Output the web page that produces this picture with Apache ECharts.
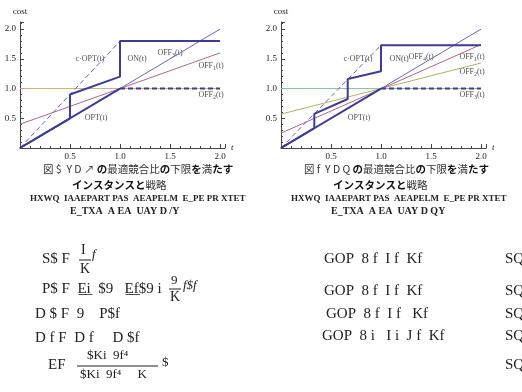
<!DOCTYPE html>
<html>
<head>
<meta charset="utf-8">
<script src="https://cdn.jsdelivr.net/npm/echarts@6/dist/echarts.min.js"></script>
<style>
	html, body { margin: 0; padding: 0; background: #fff; }
	#main { width: 522px; height: 392px; }
</style>
</head>
<body>
<div id="main"></div>
<script>
// 左图数据
var optL = [[0, 0], [1, 1]];
var optDashL = [[1, 1], [2, 1]];
var onL = [[0, 0], [0.5, 0.5], [0.5, 0.9], [1, 1.2], [1, 1.8], [2, 1.8]];
var cOptL = [[0, 0], [1, 1.8]];
var off1L = [[0, 0.4], [2, 1.6]];
var off2L = [[0, 1], [2, 1]];
var off3L = [[0, 0], [2, 2]];
// 右图数据
var optR = [[0, 0], [1, 1]];
var optDashR = [[1, 1], [2, 1]];
var onR = [[0, 0], [0.333, 0.333], [0.333, 0.575], [0.667, 0.825], [0.667, 1.16], [1, 1.29], [1, 1.73], [2, 1.73]];
var cOptR = [[0, 0], [1, 1.73]];
var off1R = [[0, 0.25], [2, 1.74]];
var off2R = [[0, 0.57], [2, 1.43]];
var off3R = [[0, 1], [2, 1]];
var off4R = [[0, 0], [2, 2]];
// 标签 [x, y, 文字]
var labelsL = [
	[0.7, 1.5, '{a|c·OPT(t)}'],
	[1.17, 1.5, '{a|ON(t)}'],
	[1.5, 1.6, '{a|OFF}{s|3}{a|(t)}'],
	[1.91, 1.38, '{a|OFF}{s|1}{a|(t)}'],
	[1.91, 0.89, '{a|OFF}{s|2}{a|(t)}'],
	[0.76, 0.5, '{a|OPT(t)}']
];
var labelsR = [
	[0.77, 1.5, '{a|c·OPT(t)}'],
	[1.18, 1.5, '{a|ON(t)}'],
	[1.4, 1.53, '{a|OFF}{s|4}{a|(t)}'],
	[1.91, 1.53, '{a|OFF}{s|1}{a|(t)}'],
	[1.91, 1.28, '{a|OFF}{s|2}{a|(t)}'],
	[1.91, 0.89, '{a|OFF}{s|3}{a|(t)}'],
	[0.78, 0.5, '{a|OPT(t)}']
];
var tickVals = [0.5, 1.0, 1.5, 2.0];

var thick = '#3d3d99';
var cBlue = '#6868b4';
var cPink = '#b0668a';
var cTan = '#c8b070';
var cOlive = '#b4b060';
var cGreen = '#80c490';
var serif = '"Liberation Serif", "DejaVu Serif", serif';
var jp = '"Noto Sans CJK JP", sans-serif';

function tickFmt(v) {
	for (var i = 0; i < tickVals.length; i++) {
		if (Math.abs(v - tickVals[i]) < 1e-6) return tickVals[i].toFixed(1);
	}
	return '';
}

function mkAxis(type, idx, max) {
	var ax = {
		type: 'value',
		gridIndex: idx,
		min: 0,
		max: max,
		interval: 0.5,
		splitLine: { show: false },
		axisLine: { lineStyle: { color: '#444', width: 1 } },
		axisTick: { inside: true, length: 4, lineStyle: { color: '#444' } },
		minorTick: { show: true, splitNumber: 5, length: 2, lineStyle: { color: '#444' } },
		axisLabel: { formatter: tickFmt, fontFamily: serif, fontSize: 9, color: '#222', margin: 4 },
		nameTextStyle: { fontFamily: serif, fontSize: 9, color: '#222' }
	};
	if (type == 'x') {
		ax.name = 't';
		ax.nameGap = 6;
		ax.nameTextStyle.fontStyle = 'italic';
		ax.nameTextStyle.padding = [8, 0, 0, 0];
	} else {
		ax.name = 'cost';
		ax.nameGap = 6;
		ax.nameTextStyle.align = 'center';
	}
	return ax;
}

function line(idx, data, color, width, dashed) {
	return {
		type: 'line', xAxisIndex: idx, yAxisIndex: idx, data: data,
		symbol: 'none', silent: true, animation: false,
		lineStyle: { color: color, width: width, type: dashed ? [5, 3] : 'solid' }
	};
}

function labelSeries(idx, arr) {
	return {
		type: 'scatter', xAxisIndex: idx, yAxisIndex: idx, symbolSize: 0, silent: true,
		data: arr.map(function(d) { return { value: [d[0], d[1]], txt: d[2] }; }),
		label: {
			show: true, position: 'inside',
			formatter: function(p) { return p.data.txt; },
			rich: {
				a: { fontFamily: serif, fontSize: 8, color: '#222' },
				s: { fontFamily: serif, fontSize: 6, color: '#222', padding: [5, 0, 0, 0] }
			}
		}
	};
}

var series = [
	// 左图
	line(0, off2L, cTan, 1),
	line(0, off1L, cPink, 1),
	line(0, off3L, cBlue, 1),
	line(0, cOptL, cBlue, 1, true),
	line(0, optL, thick, 2),
	line(0, optDashL, thick, 2, true),
	line(0, onL, thick, 2),
	labelSeries(0, labelsL),
	// 右图
	line(1, off3R, cGreen, 1),
	line(1, off2R, cOlive, 1),
	line(1, off1R, cPink, 1),
	line(1, off4R, cBlue, 1),
	line(1, cOptR, cBlue, 1, true),
	line(1, optR, thick, 2),
	line(1, optDashR, thick, 2, true),
	line(1, onR, thick, 2),
	labelSeries(1, labelsR)
];

function txt(x, y, s, size, font, extra) {
	var st = { text: s, fontSize: size, fontFamily: font, fill: '#222', textVerticalAlign: 'middle' };
	for (var k in extra) st[k] = extra[k];
	return { type: 'text', left: x, top: y - size / 2 - 1, style: st, silent: true };
}
function hline(x1, x2, y) {
	return { type: 'line', shape: { x1: x1, y1: y, x2: x2, y2: y }, style: { stroke: '#222', lineWidth: 1 }, silent: true };
}

var capRich = {
	n: { fontFamily: jp, fontSize: 10.5, fill: '#333' },
	b: { fontFamily: jp, fontSize: 10.5, fill: '#111', fontWeight: 'bold' }
};
var graphic = [];
// 图注
var capL = [
	'{n|図 $  Y D ↗ }{b|の}{n|最適競合比}{b|の}{n|下限}{b|を}{n|満}{b|たす}',
	'{n|図 f  Y D Q }{b|の}{n|最適競合比}{b|の}{n|下限}{b|を}{n|満}{b|たす}'
];
var offs = [0, 261];
for (var i = 0; i < 2; i++) {
	var o = offs[i];
	graphic.push(txt(o + 43, 170, capL[i], 10.5, jp, { rich: capRich }));
	graphic.push(txt(o + 72, 186, '{b|インスタンスと}{n|戦略}', 10.5, jp, { rich: capRich }));
	graphic.push(txt(o + 30, 200, 'HXWQ  IAAEPART PAS  AEAPELM  E_PE PR XTET', 9, serif, { fontWeight: 'bold' }));
	graphic.push(txt(o + 70, 212, i == 0 ? 'E_TXA  A EA  UAY D /Y' : 'E_TXA  A EA  UAY D QY', 10, serif, { fontWeight: 'bold' }));
}
// 左下公式
graphic.push(txt(42, 260, 'S$ F', 15, serif));
graphic.push(txt(81, 251, 'I', 14, serif));
graphic.push(hline(79, 91, 260));
graphic.push(txt(80, 270, 'K', 14, serif));
graphic.push(txt(92, 256, 'f', 13, serif, { fontStyle: 'italic' }));
graphic.push(txt(42, 290, 'P$ F  E̲i̲  $9   E̲f̲$9 i', 15, serif));
graphic.push(txt(171, 282, '9', 13, serif));
graphic.push(hline(169, 181, 289));
graphic.push(txt(170, 298, 'K', 14, serif));
graphic.push(txt(183, 287, 'f$f', 13, serif, { fontStyle: 'italic' }));
graphic.push(txt(35, 315, 'D $ F  9    P$f', 15, serif));
graphic.push(txt(35, 339, 'D f F  D f     D $f', 15, serif));
graphic.push(txt(48, 366, 'EF', 15, serif));
graphic.push(txt(87, 357, '$Ki  9f⁴', 13, serif));
graphic.push(hline(77, 158, 366));
graphic.push(txt(80, 376, '$Ki  9f⁴     K', 13, serif));
graphic.push(txt(162, 364, '$', 13, serif));
// 右下公式
var rightEq = [[324, 260, 'GOP  8 f  I f  Kf'], [324, 292, 'GOP  8 f  I f  Kf'], [326, 315, 'GOP  8 f  I f   Kf'], [322, 337, 'GOP  8 i   I i  J f  Kf']];
for (var j = 0; j < rightEq.length; j++) {
	graphic.push(txt(rightEq[j][0], rightEq[j][1], rightEq[j][2], 15, serif));
}
var sqY = [260, 292, 315, 337, 366];
for (var k = 0; k < sqY.length; k++) {
	graphic.push(txt(505, sqY[k], 'SQ', 15, serif));
}

var chart = echarts.init(document.getElementById('main'));
chart.setOption({
	animation: false,
	backgroundColor: '#fff',
	grid: [
		{ left: 20, top: 22, width: 205, height: 126 },
		{ left: 281, top: 22, width: 205, height: 126 }
	],
	xAxis: [mkAxis('x', 0, 2.05), mkAxis('x', 1, 2.05)],
	yAxis: [mkAxis('y', 0, 2.12), mkAxis('y', 1, 2.12)],
	series: series,
	graphic: graphic
});
</script>
</body>
</html>
